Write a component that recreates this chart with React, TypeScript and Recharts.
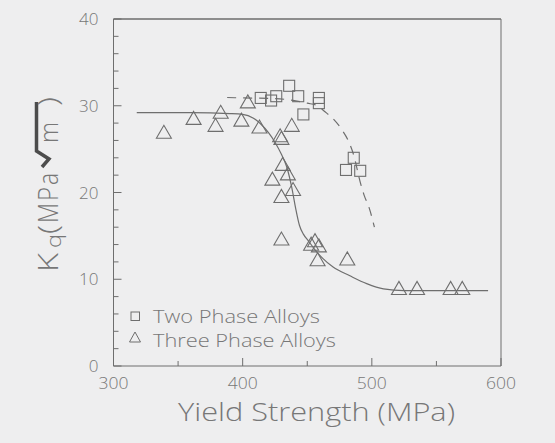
import {
  CartesianGrid,
  ComposedChart,
  Legend,
  Line,
  Scatter,
  XAxis,
  YAxis,
} from "recharts";

// axis ticks (minor ticks get no label)
const xTicks = [300, 350, 400, 450, 500, 550, 600];
const xLabelled = [300, 400, 500, 600];
const yTicks = [0, 2, 4, 6, 8, 10, 12, 14, 16, 18, 20, 22, 24, 26, 28, 30, 32, 34, 36, 38, 40];
const yLabelled = [0, 10, 20, 30, 40];

const seriesNames = ["Two Phase Alloys", "Three Phase Alloys"];

// yield strength (MPa) vs Kq (MPa·√m)
const twoPhase = [
  { x: 414, y: 30.9 },
  { x: 422, y: 30.6 },
  { x: 426, y: 31.1 },
  { x: 436, y: 32.3 },
  { x: 443, y: 31.1 },
  { x: 447, y: 29.0 },
  { x: 459, y: 30.9 },
  { x: 459, y: 30.3 },
  { x: 480, y: 22.6 },
  { x: 486, y: 24.0 },
  { x: 491, y: 22.5 },
];

const threePhase = [
  { x: 339, y: 27.0 },
  { x: 362, y: 28.6 },
  { x: 379, y: 27.8 },
  { x: 383, y: 29.3 },
  { x: 399, y: 28.4 },
  { x: 404, y: 30.5 },
  { x: 413, y: 27.6 },
  { x: 423, y: 21.6 },
  { x: 429, y: 26.6 },
  { x: 430, y: 26.3 },
  { x: 430, y: 19.6 },
  { x: 430, y: 14.7 },
  { x: 431, y: 23.3 },
  { x: 435, y: 22.2 },
  { x: 438, y: 27.8 },
  { x: 439, y: 20.4 },
  { x: 453, y: 14.1 },
  { x: 456, y: 14.5 },
  { x: 458, y: 12.3 },
  { x: 459, y: 13.9 },
  { x: 481, y: 12.4 },
  { x: 521, y: 9.0 },
  { x: 535, y: 9.0 },
  { x: 561, y: 9.0 },
  { x: 570, y: 9.0 },
];

// hand-fitted trend curves
const threePhaseFit = [
  { x: 318, y: 29.2 },
  { x: 360, y: 29.2 },
  { x: 390, y: 29.1 },
  { x: 400, y: 29.0 },
  { x: 408, y: 28.6 },
  { x: 414, y: 27.9 },
  { x: 420, y: 26.9 },
  { x: 425, y: 25.8 },
  { x: 430, y: 24.4 },
  { x: 434, y: 23.0 },
  { x: 438, y: 20.6 },
  { x: 441, y: 18.2 },
  { x: 444, y: 16.2 },
  { x: 447, y: 15.2 },
  { x: 451, y: 14.4 },
  { x: 456, y: 13.4 },
  { x: 462, y: 12.4 },
  { x: 470, y: 11.4 },
  { x: 483, y: 10.4 },
  { x: 496, y: 9.5 },
  { x: 509, y: 8.9 },
  { x: 525, y: 8.7 },
  { x: 590, y: 8.7 },
];

const twoPhaseFit = [
  { x: 388, y: 30.95 },
  { x: 400, y: 30.9 },
  { x: 420, y: 30.85 },
  { x: 440, y: 30.6 },
  { x: 450, y: 30.3 },
  { x: 458, y: 30.0 },
  { x: 463, y: 29.4 },
  { x: 470, y: 28.5 },
  { x: 477, y: 27.2 },
  { x: 482, y: 25.9 },
  { x: 486, y: 24.3 },
  { x: 491, y: 21.2 },
  { x: 494, y: 19.7 },
  { x: 498, y: 18.2 },
  { x: 502, y: 16.0 },
];

// right edge of the frame
const frameRight = [600];

const CHART_W = 555;
const CHART_H = 443;
const Y_AXIS_W = 60;
const MARGIN = { top: 19, right: 54, bottom: 47, left: 53.5 };
const PLOT_LEFT = MARGIN.left + Y_AXIS_W;
const PLOT_RIGHT = CHART_W - MARGIN.right;

const INK = "#6e6e6e";
const TEXT = "#777777";
const FONT = "'Open Sans', 'DejaVu Sans', sans-serif";
const WEIGHT = 300;

const SquareMark = (props: any) => {
  const { cx, cy } = props;
  const s = 11;
  return (
    <rect x={cx - s / 2} y={cy - s / 2} width={s} height={s} fill="none" stroke={INK} strokeWidth={1.1} />
  );
};

const TriangleMark = (props: any) => {
  const { cx, cy } = props;
  const w = 15;
  const h = 13;
  const pts = `${cx - w / 2},${cy + h / 2} ${cx + w / 2},${cy + h / 2} ${cx},${cy - h / 2}`;
  return <polygon points={pts} fill="none" stroke={INK} strokeWidth={1.1} />;
};

const XTick = (props: any) => {
  const { x, y, payload } = props;
  const v = payload.value;
  const len = v % 100 === 0 ? 8 : 5;
  return (
    <g>
      <line x1={x} x2={x} y1={y} y2={y - len} stroke={INK} strokeWidth={1} />
      {xLabelled.includes(v) && (
        <text x={x} y={y + 23} textAnchor="middle" fontSize={17} fontWeight={WEIGHT} fill={TEXT} fontFamily={FONT} textLength={30} lengthAdjust="spacingAndGlyphs">
          {v}
        </text>
      )}
    </g>
  );
};

const YTick = (props: any) => {
  const { x, y, payload } = props;
  const v = payload.value;
  const len = v % 10 === 0 ? 8 : 5;
  const isTop = v === yTicks[yTicks.length - 1];
  return (
    <g>
      <line x1={x} x2={x + len} y1={y} y2={y} stroke={INK} strokeWidth={1} />
      {/* upper edge of the frame, hung off the top tick */}
      {isTop && <rect x={PLOT_LEFT} y={y - 0.75} width={PLOT_RIGHT - PLOT_LEFT} height={1.5} fill={INK} />}
      {yLabelled.includes(v) && (
        <text x={x - 15} y={y} dy="0.36em" textAnchor="end" fontSize={17} fontWeight={WEIGHT} fill={TEXT} fontFamily={FONT}>
          {v}
        </text>
      )}
    </g>
  );
};

// rotated "Kq(MPa√m)" with a bold radical sign
const YTitle = () => (
  <g transform="translate(58,272) rotate(-90)" fill={TEXT} fontFamily={FONT} fontWeight={WEIGHT}>
    <text x={0} y={0} fontSize={27} textLength={19} lengthAdjust="spacingAndGlyphs">K</text>
    <text x={24} y={3} fontSize={21} textLength={14} lengthAdjust="spacingAndGlyphs">q</text>
    <text x={38} y={0} fontSize={27} textLength={9} lengthAdjust="spacingAndGlyphs">(</text>
    <text x={49} y={0} fontSize={27} textLength={20} lengthAdjust="spacingAndGlyphs">M</text>
    <text x={71} y={0} fontSize={27} textLength={14} lengthAdjust="spacingAndGlyphs">P</text>
    <text x={87} y={0} fontSize={27} textLength={12} lengthAdjust="spacingAndGlyphs">a</text>
    <path d="M105,-16 L113,-9 L121,-21.5 L170,-21.5" fill="none" stroke="#4c4c4c" strokeWidth={3.5} strokeLinejoin="miter" />
    <text x={129} y={0} fontSize={25} textLength={21} lengthAdjust="spacingAndGlyphs">m</text>
    <text x={166} y={0} fontSize={27} textLength={9} lengthAdjust="spacingAndGlyphs">)</text>
  </g>
);

const XTitle = () => (
  <text x={178} y={421} fontSize={25} fontWeight={WEIGHT} fill={TEXT} fontFamily={FONT} textLength={277} lengthAdjust="spacingAndGlyphs">
    Yield Strength (MPa)
  </text>
);

const LegendBox = (props: any) => {
  const items = (props.payload || [])
    .filter((p: any) => seriesNames.includes(p.value))
    .sort((a: any, b: any) => seriesNames.indexOf(a.value) - seriesNames.indexOf(b.value));
  return (
    <svg width={230} height={52} style={{ display: "block", overflow: "visible" }}>
      {items.map((item: any, i: number) => {
        const cy = 13 + i * 21;
        const baseline = 20 + i * 24;
        const square = item.value === seriesNames[0];
        return (
          <g key={item.value}>
            {square ? (
              <rect x={6} y={cy - 4} width={8.5} height={8.5} fill="none" stroke={INK} strokeWidth={1} />
            ) : (
              <polygon points={`4.5,${cy + 5} 15.5,${cy + 5} 10,${cy - 5}`} fill="none" stroke={INK} strokeWidth={1} />
            )}
            <text
              x={28}
              y={baseline}
              fontSize={19}
              fontWeight={WEIGHT}
              fill={TEXT}
              fontFamily={FONT}
              textLength={square ? 167 : 183}
              lengthAdjust="spacingAndGlyphs"
            >
              {item.value}
            </text>
          </g>
        );
      })}
    </svg>
  );
};

export default function App() {
  return (
    <div
      style={{
        position: "absolute",
        left: 0,
        top: 0,
        width: CHART_W,
        height: CHART_H,
        background: "#eeeeef",
      }}
    >
      <ComposedChart width={CHART_W} height={CHART_H} margin={MARGIN}>
        <CartesianGrid
          horizontal={false}
          verticalValues={frameRight}
          stroke={INK}
          strokeWidth={1}
          strokeOpacity={1}
        />
        <XAxis
          type="number"
          dataKey="x"
          domain={[300, 600]}
          ticks={xTicks}
          interval={0}
          height={30}
          tickSize={0}
          tickMargin={0}
          tickLine={false}
          stroke={INK}
          tick={<XTick />}
          label={{ content: () => <XTitle /> }}
          allowDataOverflow
        />
        <YAxis
          type="number"
          dataKey="y"
          domain={[0, 40]}
          ticks={yTicks}
          interval={0}
          width={Y_AXIS_W}
          tickSize={0}
          tickMargin={0}
          tickLine={false}
          stroke={INK}
          tick={<YTick />}
          label={{ content: () => <YTitle /> }}
          allowDataOverflow
        />
        <Line
          data={threePhaseFit}
          dataKey="y"
          type="monotone"
          stroke={INK}
          strokeWidth={1.2}
          dot={false}
          legendType="none"
          isAnimationActive={false}
        />
        <Line
          data={twoPhaseFit}
          dataKey="y"
          type="monotone"
          stroke={INK}
          strokeWidth={1.2}
          strokeDasharray="9 7"
          dot={false}
          legendType="none"
          isAnimationActive={false}
        />
        <Scatter name={seriesNames[0]} data={twoPhase} shape={<SquareMark />} isAnimationActive={false} />
        <Scatter name={seriesNames[1]} data={threePhase} shape={<TriangleMark />} isAnimationActive={false} />
        <Legend
          layout="vertical"
          align="center"
          verticalAlign="middle"
          content={<LegendBox />}
          wrapperStyle={{ left: 125, top: 303, width: 230, height: 52 }}
        />
      </ComposedChart>
    </div>
  );
}
